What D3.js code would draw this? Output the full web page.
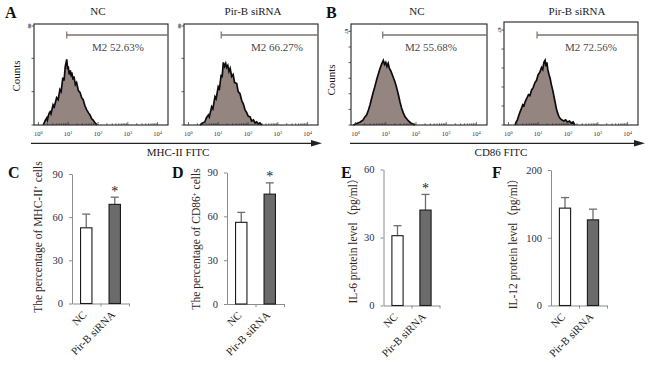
<!DOCTYPE html>
<html><head><meta charset="utf-8">
<script src="https://cdn.jsdelivr.net/npm/d3@7"></script>
<style>body{margin:0;background:#fff} svg{display:block}</style>
</head><body>
<svg id="c" width="650" height="366"></svg>
<script>
// ---------------- data ----------------
const groups = ["NC", "Pir-B siRNA"];
const mhcMeans = [52.6, 68.9];
const mhcErrors = [9.5, 5.0];
const cd86Means = [55.9, 75.2];
const cd86Errors = [6.8, 7.7];
const il6Means = [30.8, 42.1];
const il6Errors = [4.4, 6.9];
const il12Means = [143.7, 126.4];
const il12Errors = [15.6, 15.8];
const percentTicks = [0, 30, 60, 90];
const il6Ticks = [0, 30, 60];
const il12Ticks = [0, 100, 200];
const significance = [true, true, true, false];

const decadeTicks = [0, 1, 2, 3, 4];
const countTicksA = [0, 33, 66, 98];
const countTicksBNC = [0, 15.4, 30.9, 46.3, 61.8, 77.2, 92.7];
const countTicksBPir = [0, 18.8, 37.6, 56.4, 75.2, 94];
const countMaxLabels = ["80", "80", "67", "67"];
const markerLabels = ["M2 52.63%", "M2 66.27%", "M2 55.68%", "M2 72.56%"];
const markerStarts = [0.95, 1.1, 0.9, 0.96]; // log10 fluorescence

// [log10 fluorescence, relative count]
const histMhcNC = [[0.16,0],[0.22,4],[0.28,7],[0.3,5],[0.35,11],[0.39,13],[0.42,11],[0.49,20],[0.53,18],[0.61,27],[0.66,25],[0.72,35],[0.76,33],[0.82,47],[0.86,44],[0.9,58],[0.95,65],[0.98,55],[1.0,58],[1.03,50],[1.07,54],[1.1,48],[1.12,52],[1.16,45],[1.19,48],[1.24,40],[1.28,42],[1.34,34],[1.4,32],[1.45,27],[1.5,25],[1.56,19],[1.62,15],[1.68,12],[1.73,10],[1.79,6],[1.83,5],[1.9,2],[1.97,0]];
const histMhcPir = [[0.39,0],[0.47,2],[0.55,3],[0.6,7],[0.67,10],[0.7,8],[0.78,18],[0.82,16],[0.89,28],[0.93,26],[1.0,38],[1.04,36],[1.1,50],[1.13,47],[1.17,62],[1.21,58],[1.25,61],[1.28,57],[1.32,59],[1.36,53],[1.4,56],[1.45,48],[1.5,50],[1.55,42],[1.62,41],[1.67,33],[1.73,31],[1.79,24],[1.84,21],[1.9,15],[1.96,12],[2.0,9],[2.07,8],[2.12,4],[2.18,5],[2.24,2],[2.29,3],[2.35,1],[2.4,2],[2.46,0]];
const histCd86NC = [[-0.07,0],[0.0,1],[0.08,2],[0.16,3],[0.25,5],[0.31,8],[0.37,10],[0.43,15],[0.48,20],[0.53,26],[0.59,33],[0.64,38],[0.7,45],[0.75,50],[0.81,56],[0.86,60],[0.92,64],[0.96,60],[1.0,62],[1.04,58],[1.08,61],[1.12,56],[1.16,54],[1.2,51],[1.25,47],[1.3,43],[1.36,37],[1.41,31],[1.47,23],[1.52,17],[1.58,12],[1.64,8],[1.7,6],[1.75,4],[1.83,2],[1.9,1],[1.97,0]];
const histCd86Pir = [[0.22,0],[0.26,3],[0.3,5],[0.34,9],[0.39,13],[0.43,16],[0.48,20],[0.52,19],[0.56,23],[0.61,26],[0.67,30],[0.72,29],[0.78,35],[0.83,37],[0.89,42],[0.94,44],[1.0,50],[1.05,52],[1.11,57],[1.15,55],[1.19,62],[1.23,64],[1.26,58],[1.29,62],[1.32,55],[1.36,50],[1.4,46],[1.44,40],[1.49,34],[1.53,28],[1.57,22],[1.61,16],[1.65,12],[1.7,8],[1.75,6],[1.8,5],[1.86,4],[1.92,5],[1.98,3],[2.05,4],[2.1,2],[2.17,3],[2.23,0]];

// ---------------- drawing ----------------
const svg = d3.select("#c");
const serif = "'Liberation Serif','Times New Roman',serif";
const cjkSerif = "'Liberation Serif','Times New Roman','Noto Sans CJK SC',serif";

// panel letters
[["A",5,18],["B",326,18],["C",8,178],["D",172,178],["E",341,178],["F",492,178]].forEach(([t,x,y])=>{
  svg.append("text").attr("x",x).attr("y",y).text(t)
    .attr("font-family",serif).attr("font-weight","bold").attr("font-size",16).attr("fill","#111");
});

// ---- histogram panels ----
const histPanels = [
  {data:histMhcNC, title:groups[0], left:34, right:168, top:24, ticks:countTicksA, titleX:98, labelX:118},
  {data:histMhcPir, title:groups[1], left:184, right:318, top:24, ticks:countTicksA, titleX:253, labelX:277},
  {data:histCd86NC, title:groups[0], left:351, right:487, top:24, ticks:countTicksBNC, titleX:417, labelX:431},
  {data:histCd86Pir, title:groups[1], left:504, right:638, top:22, ticks:countTicksBPir, titleX:577, labelX:591}
];
const histBottom = 125;

histPanels.forEach((p,i)=>{
  const g = svg.append("g");
  const x = d3.scaleLinear().domain([-0.15,4.35]).range([p.left,p.right]);
  const y = d3.scaleLinear().domain([0,100]).range([histBottom,24]);
  g.append("text").attr("x",p.titleX).attr("y",15).attr("text-anchor","middle")
    .attr("font-family",serif).attr("font-size",11).attr("fill","#1a1a1a").text(p.title);
  g.append("path").datum(p.data)
    .attr("d", d3.area().x(d=>x(d[0])).y0(histBottom).y1(d=>y(d[1])))
    .attr("fill","#958581");
  g.append("path").datum(p.data)
    .attr("d", d3.line().x(d=>x(d[0])).y(d=>y(d[1])))
    .attr("fill","none").attr("stroke","#0d0d0d").attr("stroke-width",1.7).attr("stroke-linejoin","miter");
  g.append("rect").attr("x",p.left).attr("y",p.top).attr("width",p.right-p.left).attr("height",histBottom-p.top)
    .attr("fill","none").attr("stroke","#222").attr("stroke-width",1.1);
  const tv = [];
  for (let dd=0; dd<4; dd++) for (let k=1;k<10;k++) tv.push([dd+Math.log10(k), k===1]);
  tv.push([4,true]);
  g.selectAll(".mt").data(tv).join("line")
    .attr("x1",d=>x(d[0])).attr("x2",d=>x(d[0]))
    .attr("y1",histBottom).attr("y2",d=>histBottom-(d[1]?3:1.8))
    .attr("stroke","#333").attr("stroke-width",0.7);
  const lab = g.selectAll(".xl").data(decadeTicks).join("text")
    .attr("x",d=>x(d)).attr("y",136).attr("text-anchor","middle")
    .attr("font-family",serif).attr("font-size",6.5).attr("fill","#333");
  lab.append("tspan").text("10");
  lab.append("tspan").attr("dy",-2).attr("font-size",4.5).text(d=>d);
  g.selectAll(".yt").data(p.ticks).join("line")
    .attr("x1",p.left-2.5).attr("x2",p.left).attr("y1",d=>y(d)).attr("y2",d=>y(d))
    .attr("stroke","#333").attr("stroke-width",0.8);
  const topTick = p.ticks[p.ticks.length-1];
  g.append("text").attr("transform",`translate(${p.left-6},${y(topTick)}) rotate(90)`)
    .attr("text-anchor","middle").attr("font-family",serif).attr("font-weight","bold")
    .attr("font-size",5).attr("fill","#333").text(countMaxLabels[i]);
  const mx = x(markerStarts[i]);
  g.append("line").attr("x1",mx).attr("x2",p.right).attr("y1",35).attr("y2",35)
    .attr("stroke","#7d706d").attr("stroke-width",1.3);
  g.append("line").attr("x1",mx).attr("x2",mx).attr("y1",31.5).attr("y2",38.5)
    .attr("stroke","#7d706d").attr("stroke-width",1.2);
  g.append("text").attr("x",p.labelX).attr("y",51).attr("text-anchor","middle")
    .attr("font-family",serif).attr("font-size",11).attr("fill","#4a4a4a").text(markerLabels[i]);
});

// Counts labels
[[16,76],[331,80]].forEach(([cx,cy])=>{
  svg.append("text").attr("transform",`translate(${cx},${cy}) rotate(-90)`)
    .attr("text-anchor","middle").attr("dy","0.35em").attr("font-family",serif)
    .attr("font-size",11).attr("fill","#1a1a1a").text("Counts");
});

// arrows
[[31,322,178,"MHC-II FITC"],[350,645,501,"CD86 FITC"]].forEach(([x1,x2,tx,label])=>{
  svg.append("line").attr("x1",x1).attr("x2",x2-8).attr("y1",143.3).attr("y2",143.3)
    .attr("stroke","#222").attr("stroke-width",1.3);
  svg.append("path").attr("d",`M${x2},143.3 L${x2-11},140 L${x2-11},146.6 Z`).attr("fill","#222");
  svg.append("text").attr("x",tx).attr("y",156).attr("text-anchor","middle")
    .attr("font-family",serif).attr("font-size",11).attr("fill","#1a1a1a").text(label);
});

// ---- bar charts ----
const barCharts = [
  {means:mhcMeans, errors:mhcErrors, ticks:percentTicks, x0:72, w:57, yBase:303.5, yTop:174, titleX:37.5, titleY:237,
   title:[["The percentage of MHC-II",0],["+",-3.5],[" cells",3.5]]},
  {means:cd86Means, errors:cd86Errors, ticks:percentTicks, x0:227, w:57, yBase:304, yTop:172.5, titleX:196, titleY:239,
   title:[["The percentage of CD86",0],["+",-3.5],[" cells",3.5]]},
  {means:il6Means, errors:il6Errors, ticks:il6Ticks, x0:383.5, w:56, yBase:305.5, yTop:169.5, titleX:353, titleY:238,
   title:[["IL-6 protein level（pg/ml）",0]]},
  {means:il12Means, errors:il12Errors, ticks:il12Ticks, x0:551, w:56, yBase:305.5, yTop:170, titleX:513, titleY:241,
   title:[["IL-12 protein level（pg/ml）",0]]}
];

const axisCol = "#8c8c8c";
barCharts.forEach((c,ci)=>{
  const g = svg.append("g");
  const maxT = c.ticks[c.ticks.length-1];
  const y = d3.scaleLinear().domain([0,maxT]).range([c.yBase,c.yTop]);
  const xb = d3.scaleBand().domain(groups).range([c.x0,c.x0+c.w]).padding(0);
  const bw = xb.bandwidth()*0.4;
  const ya = g.append("g").attr("transform",`translate(${c.x0},0)`)
    .call(d3.axisLeft(y).tickValues(c.ticks).tickSize(3).tickSizeOuter(0).tickPadding(6));
  ya.select(".domain").attr("stroke",axisCol);
  ya.selectAll(".tick line").attr("stroke",axisCol);
  ya.selectAll("text").attr("font-family",serif).attr("font-size",10.5).attr("fill","#2a2f45");
  const xl = d3.scaleLinear().domain([0,groups.length]).range([c.x0,c.x0+c.w]);
  const xa = g.append("g").attr("transform",`translate(0,${c.yBase})`)
    .call(d3.axisBottom(xl).tickValues(d3.range(1,groups.length+1)).tickSize(3).tickSizeOuter(0).tickFormat(""));
  xa.select(".domain").attr("stroke",axisCol);
  xa.selectAll(".tick line").attr("stroke",axisCol);
  groups.forEach((gr,i)=>{
    const cx = xb(gr)+xb.bandwidth()/2;
    const yt = y(c.means[i]+c.errors[i]);
    g.append("line").attr("x1",cx).attr("x2",cx).attr("y1",y(c.means[i])).attr("y2",yt)
      .attr("stroke","#6d6d6d").attr("stroke-width",1.3);
    g.append("line").attr("x1",cx-4).attr("x2",cx+4).attr("y1",yt).attr("y2",yt)
      .attr("stroke","#6d6d6d").attr("stroke-width",1.3);
  });
  g.selectAll(".bar").data(groups).join("rect")
    .attr("x",d=>xb(d)+xb.bandwidth()/2-bw/2).attr("width",bw)
    .attr("y",(d,i)=>y(c.means[i])).attr("height",(d,i)=>c.yBase-y(c.means[i]))
    .attr("fill",(d,i)=>i===0?"#ffffff":"#6b6b6b").attr("stroke","#1a1a1a").attr("stroke-width",1.1);
  if (significance[ci]) {
    const cx = xb(groups[1])+xb.bandwidth()/2;
    g.append("text").attr("x",cx).attr("y",y(c.means[1]+c.errors[1])-1.5).attr("text-anchor","middle")
      .attr("font-family",serif).attr("font-size",14).attr("fill","#222").text("*");
  }
  g.selectAll(".cl").data(groups).join("text")
    .attr("transform",d=>`translate(${xb(d)+xb.bandwidth()/2+1},${c.yBase+12}) rotate(-45)`)
    .attr("text-anchor","end").attr("font-family",serif).attr("font-size",11).attr("fill","#1a1a1a").text(d=>d);
  const t = g.append("text").attr("transform",`translate(${c.titleX},${c.titleY}) rotate(-90)`)
    .attr("text-anchor","middle").attr("dy","0.35em").attr("font-family",cjkSerif)
    .attr("font-size",11.5).attr("fill","#33261a");
  c.title.forEach(([s,dy])=>{
    const ts = t.append("tspan").text(s);
    if (dy) ts.attr("dy",dy);
    if (s==="+") ts.attr("font-size",7);
  });
});
</script>
</body></html>
